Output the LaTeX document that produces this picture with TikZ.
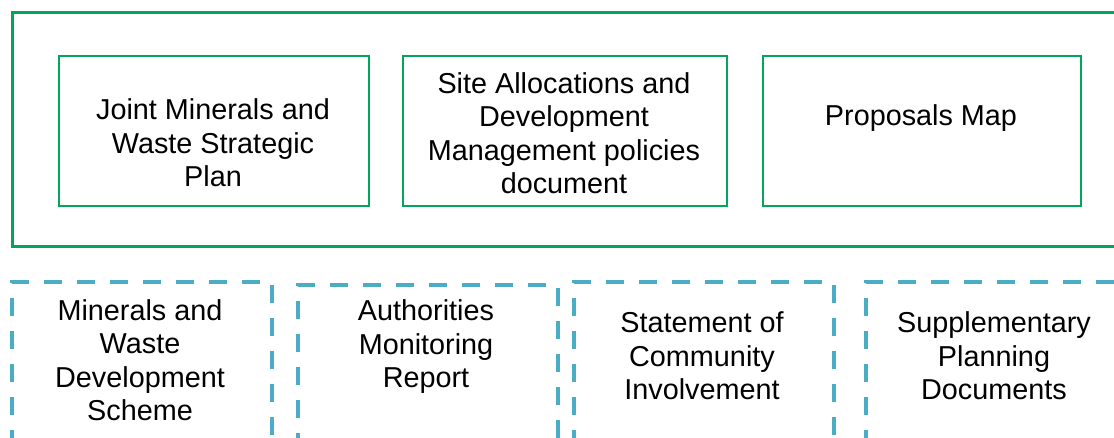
\documentclass[tikz,border=0pt]{standalone}
\usepackage{fontspec}
\setmainfont{Liberation Sans}
\definecolor{pgreen}{RGB}{0,166,90}
\definecolor{pteal}{RGB}{75,172,198}
\begin{document}
\begin{tikzpicture}[x=1pt,y=-1pt,
  outerbox/.style={draw=pgreen,line width=3.2pt,rectangle,inner sep=0pt,anchor=north west},
  docbox/.style={draw=pgreen,line width=2.2pt,rectangle,inner sep=0pt,anchor=north west},
  dashbox/.style={draw=pteal,line width=4.4pt,dash pattern=on 18pt off 15pt,rectangle,inner sep=0pt,anchor=north west},
  label/.style={align=center,text=black,font=\fontsize{28.8}{33.5}\selectfont,inner sep=0pt}]
\useasboundingbox (0,0) rectangle (1114,437);
\node[outerbox,minimum width=1130pt,minimum height=234pt] (outer) at (10.5,11) {};
\node[docbox,minimum width=310pt,minimum height=150pt] (b1) at (58,54.5) {};
\node[docbox,minimum width=324pt,minimum height=150pt] (b2) at (402,54.5) {};
\node[docbox,minimum width=318pt,minimum height=150pt] (b3) at (762,54.5) {};
\node[label] (t1) at (213,143) {Joint Minerals and\\Waste Strategic\\Plan};
\node[label] (t2) at (564,133) {Site Allocations and\\Development\\Management policies\\document};
\node[label] (t3) at (921,118.5) {Proposals Map};
\node[dashbox,minimum width=260pt,minimum height=190pt] (d1) at (10,280) {};
\node[dashbox,minimum width=260pt,minimum height=190pt] (d2) at (296,283) {};
\node[dashbox,minimum width=260pt,minimum height=190pt] (d3) at (572,280) {};
\node[dashbox,minimum width=260pt,minimum height=190pt] (d4) at (864,280) {};
\node[label] (s1) at (140,360) {Minerals and\\Waste\\Development\\Scheme};
\node[label] (s2) at (426,347) {Authorities\\Monitoring\\Report};
\node[label] (s3) at (702,356) {Statement of\\Community\\Involvement};
\node[label] (s4) at (994,356) {Supplementary\\Planning\\Documents};
\end{tikzpicture}
\end{document}
